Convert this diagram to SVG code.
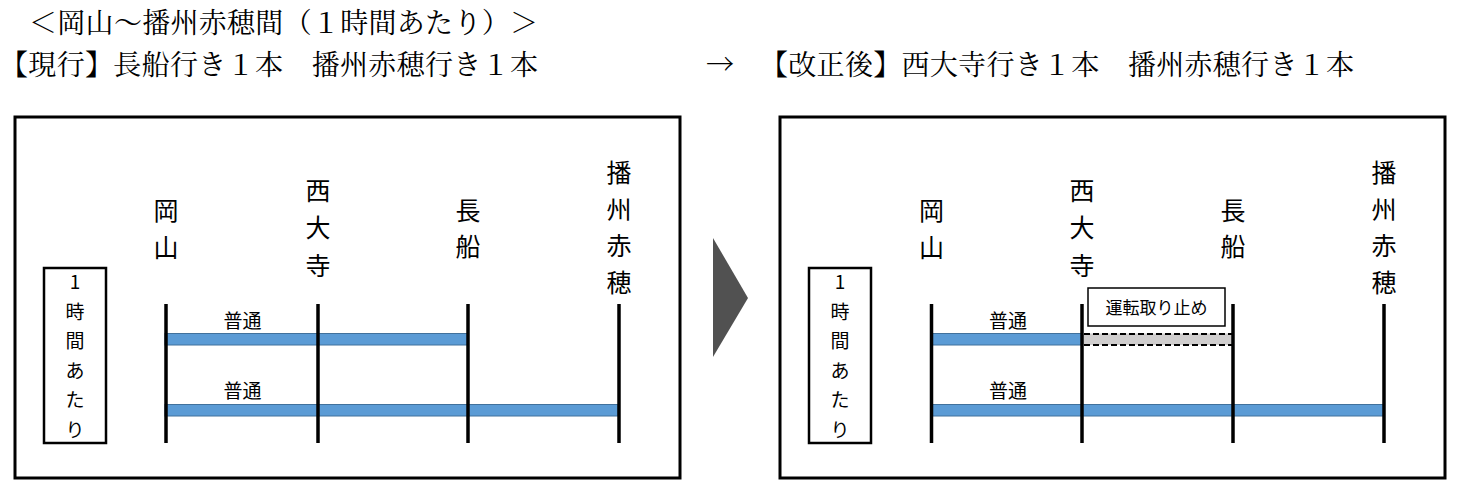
<svg xmlns="http://www.w3.org/2000/svg" width="1460" height="493" viewBox="0 0 1460 493">
<style>
.hdr{font-family:"Noto Serif CJK JP","Noto Sans CJK JP",serif;font-size:28px;fill:#000}
.st{font-family:"Noto Sans CJK JP",sans-serif;font-size:25px;fill:#000;text-anchor:middle}
.hr{font-family:"Noto Sans CJK JP",sans-serif;font-size:19px;fill:#000;text-anchor:middle}
.lbl{font-family:"Noto Sans CJK JP",sans-serif;font-size:19px;fill:#000;text-anchor:middle}
.note{font-family:"Noto Sans CJK JP",sans-serif;font-size:17px;fill:#000;text-anchor:middle}
.frame{fill:none;stroke:#000;stroke-width:3}
.hbox{fill:#fff;stroke:#000;stroke-width:2.5}
.sline{stroke:#000;stroke-width:3.5}
.bar{fill:#5B9BD5;stroke:#41719C;stroke-width:1}
.cut{fill:#D0CECE;stroke:none}
.dash{stroke:#000;stroke-width:2;stroke-dasharray:6 3}
.nbox{fill:#fff;stroke:#000;stroke-width:1.5}
</style>

<g id="header">
<text class="hdr" x="29" y="33" textLength="509" lengthAdjust="spacing">＜岡山～播州赤穂間（１時間あたり）＞</text>
<text class="hdr" x="0" y="75" textLength="538" lengthAdjust="spacing">【現行】長船行き１本　播州赤穂行き１本</text>
<text class="hdr" x="706" y="75">→</text>
<text class="hdr" x="760" y="75" textLength="594" lengthAdjust="spacing">【改正後】西大寺行き１本　播州赤穂行き１本</text>
</g>

<!-- Left panel: current -->
<g id="panel-current">
<rect class="frame" x="15" y="117" width="665" height="361"/>
<g id="cur-hour-box">
<rect class="hbox" x="44" y="268" width="62" height="175"/>
<text class="hr" x="75" y="289">1</text>
<text class="hr" x="75" y="318.6">時</text>
<text class="hr" x="75" y="348.2">間</text>
<text class="hr" x="75" y="377.8">あ</text>
<text class="hr" x="75" y="407.4">た</text>
<text class="hr" x="75" y="437">り</text>
</g>
<g id="cur-connectors">
<rect class="bar" x="165" y="333.5" width="303" height="11.5"/>
<text class="lbl" x="242.5" y="328">普通</text>
<rect class="bar" x="165" y="404.5" width="453" height="11.5"/>
<text class="lbl" x="242.5" y="398">普通</text>
</g>
<g id="cur-okayama">
<text class="st" x="166" y="219.5">岡</text>
<text class="st" x="166" y="256.5">山</text>
<line class="sline" x1="166" y1="304" x2="166" y2="443"/>
</g>
<g id="cur-saidaiji">
<text class="st" x="318" y="199.5">西</text>
<text class="st" x="318" y="237">大</text>
<text class="st" x="318" y="274.5">寺</text>
<line class="sline" x1="318" y1="304" x2="318" y2="443"/>
</g>
<g id="cur-osafune">
<text class="st" x="468" y="219.5">長</text>
<text class="st" x="468" y="256">船</text>
<line class="sline" x1="468" y1="304" x2="468" y2="443"/>
</g>
<g id="cur-ako">
<text class="st" x="619" y="181.5">播</text>
<text class="st" x="619" y="218.5">州</text>
<text class="st" x="619" y="255">赤</text>
<text class="st" x="619" y="291.5">穂</text>
<line class="sline" x1="619" y1="304" x2="619" y2="443"/>
</g>
</g>

<g id="transition-arrow">
<polygon points="713,238 748,298 713,357" fill="#515151"/>
</g>

<!-- Right panel: revised -->
<g id="panel-revised">
<rect class="frame" x="780" y="117" width="665" height="361"/>
<g id="rev-hour-box">
<rect class="hbox" x="809" y="268" width="62" height="175"/>
<text class="hr" x="840" y="289">1</text>
<text class="hr" x="840" y="318.6">時</text>
<text class="hr" x="840" y="348.2">間</text>
<text class="hr" x="840" y="377.8">あ</text>
<text class="hr" x="840" y="407.4">た</text>
<text class="hr" x="840" y="437">り</text>
</g>
<g id="rev-connectors">
<rect class="bar" x="931.5" y="333.5" width="150.5" height="11.5"/>
<rect class="cut" x="1082" y="333.5" width="150" height="11.5"/>
<line class="dash" x1="1084" y1="334" x2="1232" y2="334"/>
<line class="dash" x1="1084" y1="345" x2="1232" y2="345"/>
<text class="lbl" x="1008" y="328">普通</text>
<rect class="bar" x="931.5" y="404.5" width="452" height="11.5"/>
<text class="lbl" x="1008" y="398">普通</text>
</g>
<g id="rev-okayama">
<text class="st" x="931.5" y="219.5">岡</text>
<text class="st" x="931.5" y="256.5">山</text>
<line class="sline" x1="931.5" y1="304" x2="931.5" y2="443"/>
</g>
<g id="rev-saidaiji">
<text class="st" x="1082" y="199.5">西</text>
<text class="st" x="1082" y="237">大</text>
<text class="st" x="1082" y="274.5">寺</text>
<line class="sline" x1="1082" y1="304" x2="1082" y2="443"/>
</g>
<g id="rev-osafune">
<text class="st" x="1233" y="219.5">長</text>
<text class="st" x="1233" y="256">船</text>
<line class="sline" x1="1233" y1="304" x2="1233" y2="443"/>
</g>
<g id="rev-ako">
<text class="st" x="1384" y="181.5">播</text>
<text class="st" x="1384" y="218.5">州</text>
<text class="st" x="1384" y="255">赤</text>
<text class="st" x="1384" y="291.5">穂</text>
<line class="sline" x1="1384" y1="304" x2="1384" y2="443"/>
</g>
<g id="rev-suspended-note">
<rect class="nbox" x="1088" y="288" width="137" height="38"/>
<text class="note" x="1156.5" y="314">運転取り止め</text>
</g>
</g>
</svg>
